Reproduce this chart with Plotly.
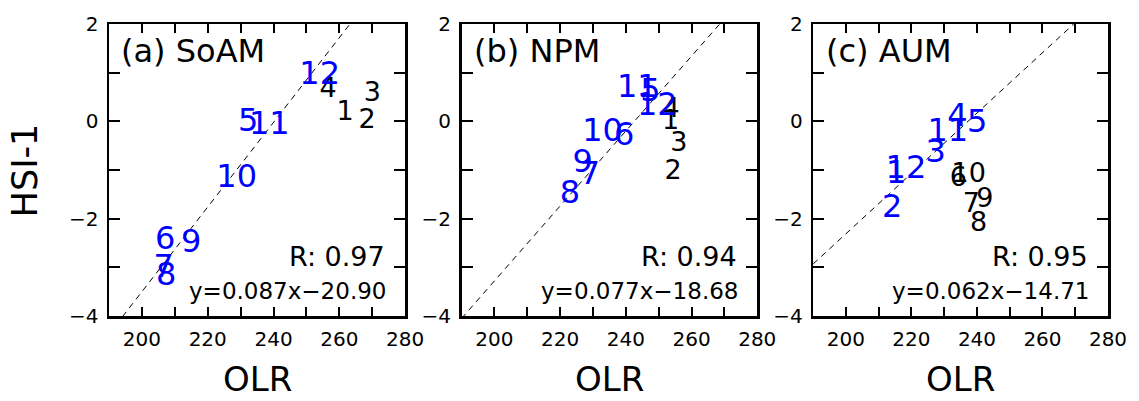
import plotly.graph_objects as go

# ---------------- data ----------------
months = ["1", "2", "3", "4", "5", "6", "7", "8", "9", "10", "11", "12"]

panel_titles = ["(a) SoAM", "(b) NPM", "(c) AUM"]

a_olr = [261.7, 268.4, 270.0, 256.6, 232.3, 207.1, 206.6, 207.4, 215.0, 228.8, 238.7, 254.0]
a_hsi = [0.17, 0.00, 0.56, 0.63, -0.03, -2.46, -3.03, -3.20, -2.53, -1.18, -0.09, 0.94]
a_hi = [0, 0, 0, 0, 1, 1, 1, 1, 1, 1, 1, 1]

b_olr = [253.6, 254.4, 256.1, 253.8, 247.5, 239.5, 229.1, 223.0, 226.9, 232.9, 243.5, 249.6]
b_hsi = [-0.02, -1.04, -0.47, 0.23, 0.59, -0.32, -1.13, -1.52, -0.88, -0.24, 0.67, 0.30]
b_hi = [0, 0, 0, 0, 1, 1, 1, 1, 1, 1, 1, 1]

c_olr = [215.3, 214.1, 227.4, 234.0, 240.1, 234.3, 238.3, 240.5, 242.4, 237.5, 231.1, 218.3]
c_hsi = [-1.11, -1.80, -0.67, 0.07, -0.05, -1.18, -1.72, -2.11, -1.62, -1.11, -0.24, -1.01]
c_hi = [1, 1, 1, 1, 1, 0, 0, 0, 0, 0, 1, 1]

r_values = ["0.97", "0.94", "0.95"]
slopes = [0.087, 0.077, 0.062]
intercepts = [-20.90, -18.68, -14.71]

x_tickvals = [190, 200, 210, 220, 230, 240, 250, 260, 270, 280]
x_ticktext = ["", "200", "", "220", "", "240", "", "260", "", "280"]
y_tickvals = [-4, -3, -2, -1, 0, 1, 2]
y_ticktext = ["\u22124", "", "\u22122", "", "0", "", "2"]

x_range = [190, 280]
y_range = [-4, 2]

# ---------------- figure ----------------
FONT = "DejaVu Sans"
BLUE = "#0000FF"
BLACK = "#000000"

panels = [(a_olr, a_hsi, a_hi), (b_olr, b_hsi, b_hi), (c_olr, c_hsi, c_hi)]
domains = [[0.0, 0.2965], [0.3529, 0.6489], [0.7049, 1.0]]

fig = go.Figure()

for i, (olr, hsi, hi) in enumerate(panels):
    xa = "x" if i == 0 else f"x{i+1}"
    ya = "y" if i == 0 else f"y{i+1}"
    lx = [x_range[0], x_range[1]]
    ly = [slopes[i] * v + intercepts[i] for v in lx]
    fig.add_trace(go.Scatter(
        x=lx, y=ly, mode="lines",
        line=dict(color=BLACK, width=1, dash="6px,5px"),
        xaxis=xa, yaxis=ya, showlegend=False, hoverinfo="skip",
    ))
    colors = [BLUE if h else BLACK for h in hi]
    sizes = [32 if h else 27 for h in hi]
    fig.add_trace(go.Scatter(
        x=olr, y=hsi, mode="text", text=months,
        textposition="middle center",
        textfont=dict(family=FONT, color=colors, size=sizes),
        xaxis=xa, yaxis=ya, showlegend=False, cliponaxis=False,
    ))

axis_common = dict(
    showline=True, linecolor=BLACK, linewidth=2.5, mirror="ticks",
    ticks="inside", tickcolor=BLACK, tickwidth=2,
    showgrid=False, zeroline=False, fixedrange=True,
    tickfont=dict(family=FONT, size=20, color=BLACK),
)

layout = dict(
    width=1139, height=401,
    margin=dict(l=109, r=26, t=19, b=85),
    paper_bgcolor="white", plot_bgcolor="white",
    showlegend=False,
    font=dict(family=FONT, color=BLACK),
)

for i in range(3):
    xk = "xaxis" if i == 0 else f"xaxis{i+1}"
    yk = "yaxis" if i == 0 else f"yaxis{i+1}"
    ya = "y" if i == 0 else f"y{i+1}"
    xa = "x" if i == 0 else f"x{i+1}"
    layout[xk] = dict(axis_common, domain=domains[i], range=x_range, anchor=ya,
                      tickmode="array", tickvals=x_tickvals, ticktext=x_ticktext,
                      ticklen=9, ticklabelstandoff=3)
    layout[yk] = dict(axis_common, domain=[0, 1], range=y_range, anchor=xa,
                      tickmode="array", tickvals=y_tickvals, ticktext=y_ticktext,
                      ticklen=11, ticklabelstandoff=4)

fig.update_layout(**layout)

annotations = []
for i in range(3):
    xd = "x domain" if i == 0 else f"x{i+1} domain"
    yd = "y domain" if i == 0 else f"y{i+1} domain"
    annotations.append(dict(
        xref=xd, yref=yd, x=0.035, y=0.907, xanchor="left", yanchor="middle",
        text=panel_titles[i], showarrow=False,
        font=dict(family=FONT, size=32, color=BLACK),
    ))
    annotations.append(dict(
        xref=xd, yref=yd, x=1 - 18 / 297, y=0.205, xanchor="right", yanchor="middle",
        text=f"R: {r_values[i]}", showarrow=False,
        font=dict(family=FONT, size=27, color=BLACK),
    ))
    annotations.append(dict(
        xref=xd, yref=yd, x=1 - 17 / 297, y=0.085, xanchor="right", yanchor="middle",
        text=f"y={slopes[i]:.3f}x\u2212{abs(intercepts[i]):.2f}", showarrow=False,
        font=dict(family=FONT, size=23, color=BLACK),
    ))
    annotations.append(dict(
        xref=xd, yref="paper", x=0.5, y=-0.2145, xanchor="center", yanchor="middle",
        text="OLR", showarrow=False,
        font=dict(family=FONT, size=34, color=BLACK),
    ))

annotations.append(dict(
    xref="paper", yref="paper", x=-0.0837, y=0.5, xanchor="center", yanchor="middle",
    text="HSI-1", showarrow=False, textangle=-90,
    font=dict(family=FONT, size=35, color=BLACK),
))

fig.update_layout(annotations=annotations)

fig.write_html(
    "out.html",
    config={"displayModeBar": False, "staticPlot": True},
    post_script="document.body.style.margin='0';document.body.style.padding='0';document.body.style.overflow='hidden';",
)
